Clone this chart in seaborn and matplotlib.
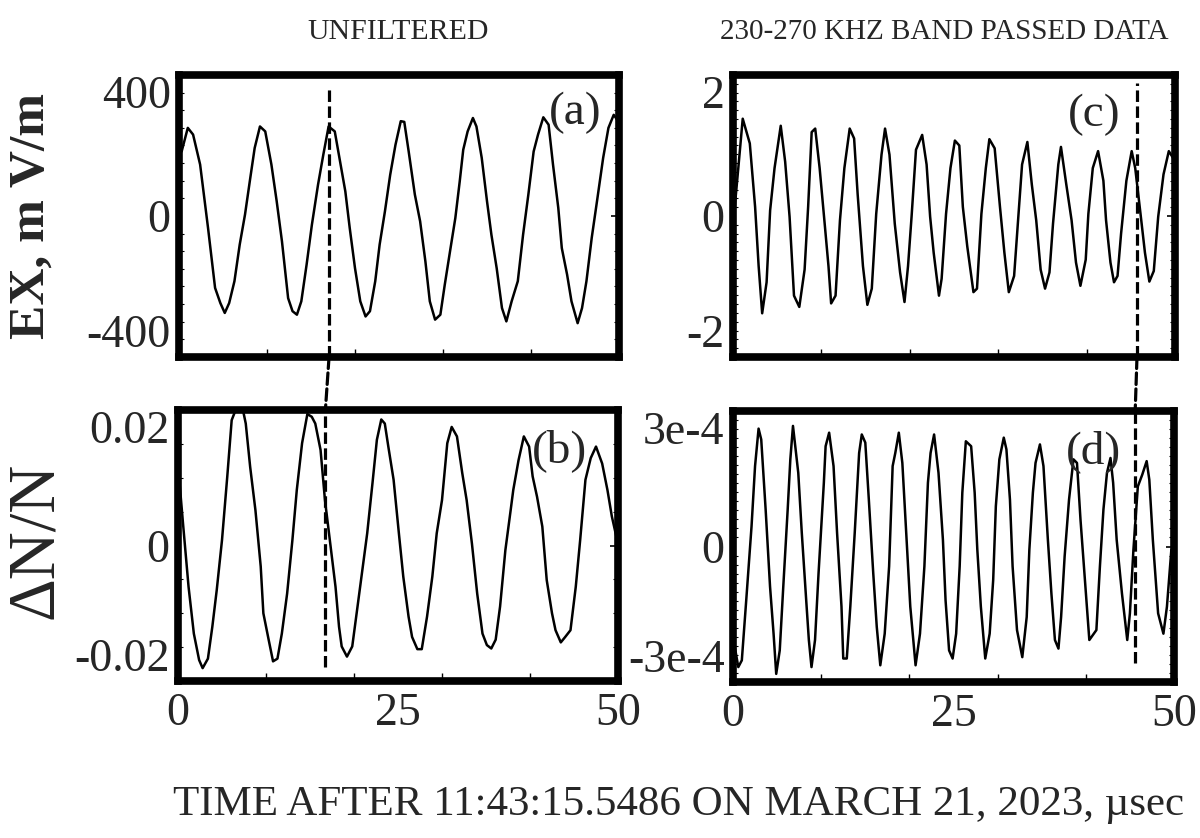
import matplotlib
matplotlib.use("Agg")
import matplotlib.pyplot as plt
import seaborn as sns
from matplotlib.ticker import MultipleLocator, FixedLocator
from matplotlib.patches import ConnectionPatch

# ---- data (time in usec) ----
# (a) unfiltered EX, mV/m
ta = [0.3, 1.0, 1.6, 2.4, 3.3, 4.1, 4.7, 5.2, 5.7, 6.3,
      6.9, 7.5, 8.1, 8.6, 9.2, 9.8, 10.5, 11.1, 11.7, 12.4,
      12.9, 13.4, 13.9, 14.5, 15.1, 15.8, 16.4, 17.0, 17.7, 18.3,
      18.9, 19.4, 20.0, 20.6, 21.2, 21.7, 22.3, 22.8, 23.4, 24.0,
      24.6, 25.2, 25.6, 26.1, 26.8, 27.4, 28.0, 28.5, 29.1, 29.7,
      30.2, 30.8, 31.4, 31.9, 32.3, 32.8, 33.4, 33.8, 34.4, 35.0,
      35.5, 36.1, 36.7, 37.2, 37.8, 38.5, 39.1, 39.7, 40.3, 40.8,
      41.4, 42.0, 42.5, 43.1, 43.5, 44.1, 44.6, 45.3, 45.8, 46.3,
      46.9, 47.5, 48.2, 48.8, 49.4, 49.9]
ex_unf = [183, 250, 231, 146, -34, -204, -247, -275, -247, -185,
          -81, 4, 108, 193, 254, 240, 146, 42, -72, -233,
          -270, -280, -242, -138, -25, 89, 174, 254, 240, 155,
          70, -34, -148, -242, -285, -270, -185, -81, 13, 117,
          202, 269, 267, 183, 61, -15, -129, -242, -294, -280,
          -195, -100, -6, 98, 188, 240, 278, 254, 165, 42,
          -53, -148, -261, -299, -242, -185, -53, 61, 183, 231,
          280, 259, 146, 23, -91, -166, -242, -304, -261, -185,
          -62, 42, 165, 250, 287, 269]

# (b) unfiltered dN/N
tb = [0.1, 0.6, 1.2, 1.8, 2.4, 2.8, 3.4, 3.9, 4.4, 5.0,
      5.6, 6.1, 6.7, 7.3, 7.7, 8.2, 8.8, 9.4, 9.7, 10.3,
      10.8, 11.3, 11.8, 12.4, 13.0, 13.5, 14.1, 14.7, 15.2, 15.6,
      16.2, 16.7, 17.3, 17.9, 18.3, 18.6, 19.2, 19.8, 20.3, 20.9,
      21.5, 22.1, 22.6, 23.1, 23.5, 23.9, 24.5, 25.1, 25.6, 26.2,
      26.6, 27.2, 27.7, 28.3, 28.9, 29.4, 30.0, 30.6, 31.1, 31.7,
      32.3, 32.8, 33.4, 34.0, 34.6, 35.1, 35.6, 36.1, 36.6, 37.2,
      37.8, 38.1, 38.7, 39.3, 39.9, 40.3, 40.8, 41.4, 41.9, 42.5,
      42.9, 43.5, 44.0, 44.6, 45.2, 45.7, 46.3, 46.9, 47.5, 48.2,
      48.8, 49.3, 49.9]
dn_unf = [0.0104, 0.0028, -0.0061, -0.0130, -0.0169, -0.0181, -0.0167, -0.0120, -0.0066, 0.0008,
          0.0102, 0.0185, 0.0205, 0.0205, 0.0180, 0.0116, 0.0052, -0.0031, -0.0100, -0.0139,
          -0.0171, -0.0167, -0.0130, -0.0071, 0.0008, 0.0082, 0.0151, 0.0194, 0.0190, 0.0180,
          0.0141, 0.0067, 0.0003, -0.0061, -0.0120, -0.0149, -0.0164, -0.0149, -0.0100, -0.0041,
          0.0018, 0.0092, 0.0156, 0.0186, 0.0180, 0.0146, 0.0097, 0.0018, -0.0046, -0.0105,
          -0.0135, -0.0153, -0.0153, -0.0105, -0.0046, 0.0018, 0.0067, 0.0151, 0.0175, 0.0161,
          0.0107, 0.0067, 0.0003, -0.0071, -0.0130, -0.0147, -0.0152, -0.0139, -0.0090, -0.0007,
          0.0052, 0.0082, 0.0126, 0.0161, 0.0146, 0.0102, 0.0072, 0.0028, -0.0051, -0.0100,
          -0.0125, -0.0143, -0.0135, -0.0125, -0.0061, 0.0008, 0.0097, 0.0129, 0.0146, 0.0121,
          0.0082, 0.0043, 0.0008]

# (c) band passed EX
tc = [0.2, 0.6, 1.1, 1.9, 2.5, 2.9, 3.3, 3.8, 4.2, 4.7,
      5.4, 5.9, 6.4, 6.9, 7.5, 8.1, 8.5, 8.9, 9.3, 9.8,
      10.4, 10.8, 11.1, 11.6, 12.1, 12.6, 13.2, 13.7, 14.1, 14.7,
      15.2, 15.7, 16.2, 16.8, 17.2, 17.7, 18.3, 18.9, 19.4, 19.8,
      20.2, 20.7, 21.4, 21.9, 22.3, 22.7, 23.3, 23.6, 24.1, 24.6,
      25.1, 25.6, 26.0, 26.5, 27.2, 27.6, 28.1, 28.6, 29.0, 29.6,
      30.2, 30.7, 31.2, 31.8, 32.3, 32.7, 33.3, 33.8, 34.3, 34.8,
      35.3, 35.8, 36.2, 36.8, 37.1, 37.7, 38.3, 38.8, 39.3, 39.9,
      40.2, 40.7, 41.3, 41.9, 42.2, 42.7, 43.1, 43.5, 43.9, 44.5,
      45.1, 45.5, 46.1, 46.6, 47.1, 47.6, 48.1, 48.7, 49.3, 49.8]
ex_bp = [0.13, 0.68, 1.38, 1.03, 0.13, -0.71, -1.38, -0.94, 0.08, 0.68,
         1.28, 0.77, -0.01, -1.13, -1.29, -0.76, 0.13, 1.19, 1.24, 0.68,
         -0.15, -0.71, -1.24, -1.13, -0.06, 0.68, 1.24, 1.10, 0.31, -0.71,
         -1.26, -1.03, 0.03, 0.87, 1.24, 0.87, -0.11, -0.80, -1.22, -0.71,
         -0.01, 0.94, 1.15, 0.73, -0.01, -0.52, -1.13, -0.89, 0.03, 0.68,
         1.07, 1.00, 0.13, -0.43, -1.08, -1.03, 0.03, 0.68, 1.09, 0.96,
         0.13, -0.52, -1.08, -0.85, 0.03, 0.73, 1.05, 0.45, -0.06, -0.76,
         -1.03, -0.80, -0.11, 0.73, 0.98, 0.45, -0.06, -0.66, -0.99, -0.62,
         0.03, 0.68, 0.92, 0.50, -0.06, -0.66, -0.94, -0.85, -0.25, 0.50,
         0.92, 0.68, 0.03, -0.52, -0.93, -0.78, -0.01, 0.59, 0.92, 0.82]

# (d) band passed dN/N (units of 1e-4)
td = [0.2, 0.6, 1.0, 1.5, 2.1, 2.5, 2.9, 3.2, 3.7, 4.2,
      4.6, 4.9, 5.3, 5.7, 6.2, 6.5, 6.8, 7.4, 7.8, 8.3,
      8.6, 8.9, 9.3, 9.7, 10.3, 10.5, 10.9, 11.4, 11.8, 12.3,
      12.5, 12.9, 13.3, 13.8, 14.3, 14.6, 15.0, 15.4, 15.9, 16.3,
      16.7, 17.2, 17.7, 18.1, 18.4, 18.8, 19.2, 19.6, 20.1, 20.7,
      21.2, 21.7, 22.1, 22.4, 22.8, 23.3, 23.8, 24.1, 24.5, 24.9,
      25.3, 25.7, 26.0, 26.4, 27.0, 27.4, 27.7, 28.1, 28.6, 29.1,
      29.5, 29.8, 30.2, 30.7, 31.0, 31.4, 31.7, 32.2, 32.8, 33.3,
      33.6, 34.0, 34.3, 34.8, 35.2, 35.7, 36.1, 36.5, 36.9, 37.2,
      37.6, 38.1, 38.6, 39.0, 39.4, 39.9, 40.4, 41.2, 41.6, 42.0,
      42.4, 42.8, 43.1, 43.5, 44.1, 44.7, 45.0, 45.4, 45.9, 46.4,
      46.9, 47.2, 47.6, 48.2, 48.8, 49.2, 49.7]
dn_bp_e4 = [-2.22, -2.67, -2.52, -1.19, 0.44, 1.78, 2.61, 2.37, 0.82, -0.89,
            -1.93, -2.82, -2.30, -0.89, 0.82, 1.93, 2.67, 1.63, 0.30, -1.19,
            -2.07, -2.67, -2.07, -0.59, 1.41, 2.22, 2.52, 1.78, 0.30, -1.33,
            -2.48, -2.48, -1.33, 0.30, 2.07, 2.48, 2.30, 1.04, -0.59, -1.78,
            -2.63, -1.93, -0.44, 1.78, 2.07, 2.52, 1.85, 0.44, -1.33, -2.63,
            -1.93, -0.44, 1.41, 2.07, 2.48, 1.63, 0.15, -1.19, -2.30, -2.48,
            -1.93, -0.44, 1.19, 2.33, 2.22, 1.19, -0.07, -1.33, -2.48, -1.93,
            -0.74, 0.89, 1.93, 2.41, 2.15, 1.04, -0.44, -1.85, -2.45, -1.56,
            -0.07, 1.19, 1.85, 2.26, 1.78, 0.15, -1.04, -2.07, -2.26, -1.56,
            -0.22, 1.04, 1.93, 1.85, 0.59, -0.74, -2.07, -1.85, -0.44, 0.82,
            1.63, 1.96, 1.41, 0.15, -1.04, -2.07, -1.48, -0.07, 1.33, 1.59,
            1.89, 1.48, 0.15, -1.48, -1.93, -1.33, -0.07]
dn_bp = [v * 1e-4 for v in dn_bp_e4]

# axis limits / tick labels
ylims = {"a": 400, "b": 0.02, "c": 2, "d": 3e-4}
ylabels_txt = {"a": ["-400", "0", "400"], "b": ["-0.02", "0", "0.02"],
               "c": ["-2", "0", "2"], "d": ["-3e-4", "0", "3e-4"]}
minor_step = {"a": 50, "b": 0.005, "c": 0.125, "d": 0.2e-4}
xtick_vals = [0, 25, 50]
xtick_txt = ["0", "25", "50"]

# dashed time markers (usec): top panels, bottom panels
mark_top = [17.05, 45.7]
mark_bot = [16.75, 45.6]

sns.set_theme(style="white")
plt.rcParams["font.family"] = ["Liberation Serif", "DejaVu Serif"]
plt.rcParams["axes.unicode_minus"] = False

fig = plt.figure(figsize=(12, 8.38), dpi=100)
W, H = 1200, 838


def box(x0, x1, y0, y1):
    return [x0 / W, 1 - y1 / H, (x1 - x0) / W, (y1 - y0) / H]


ax_a = fig.add_axes(box(179, 619, 75, 357))
ax_b = fig.add_axes(box(178, 618, 410, 681))
ax_c = fig.add_axes(box(733, 1175, 75, 357))
ax_d = fig.add_axes(box(733, 1174, 411, 682))

panels = [(ax_a, "a", ta, ex_unf, (0.90, 0.865)),
          (ax_b, "b", tb, dn_unf, (0.868, 0.849)),
          (ax_c, "c", tc, ex_bp, (0.817, 0.858)),
          (ax_d, "d", td, dn_bp, (0.818, 0.852))]

for ax, key, t, v, lab in panels:
    sns.lineplot(x=t, y=v, ax=ax, color="black", linewidth=1.8,
                 sort=False, estimator=None)
    lim = ylims[key]
    ax.set_xlim(0, 50)
    ax.set_ylim(-lim, lim)
    for s in ax.spines.values():
        s.set_linewidth(5.5)
        s.set_color("black")
    ax.set_yticks([-lim, 0, lim])
    ax.set_yticklabels(ylabels_txt[key])
    ax.yaxis.set_minor_locator(MultipleLocator(minor_step[key]))
    ax.tick_params(axis="y", which="major", direction="in", length=6,
                   width=1.2, labelsize=33, pad=6, right=True, color="black")
    ax.tick_params(axis="y", which="minor", direction="in", length=3.5,
                   width=0.8, left=True, right=True, color="black")
    tl = ax.get_yticklabels()
    tl[0].set_va("bottom")
    tl[-1].set_va("top")
    ax.set_xticks(xtick_vals)
    ax.xaxis.set_minor_locator(FixedLocator([10, 20, 30, 40]))
    ax.tick_params(axis="x", which="major", length=0, labelsize=33, pad=8)
    ax.tick_params(axis="x", which="minor", direction="in", length=6,
                   width=1.0, bottom=True, color="black")
    ax.text(lab[0], lab[1], f"({key})", transform=ax.transAxes,
            ha="center", va="center", fontsize=34)
    ax.set_xlabel("")
    ax.set_ylabel("")
    ax.grid(False)

for ax in (ax_a, ax_c):
    ax.set_xticklabels([])
for ax in (ax_b, ax_d):
    ax.set_xticklabels(xtick_txt)

# dashed markers inside panels
dash = dict(color="black", linewidth=2.3, linestyle=(0, (3.6, 1.4)))
ax_a.axvline(mark_top[0], ymin=0, ymax=0.954, **dash)
ax_c.axvline(mark_top[1], ymin=0, ymax=0.97, **dash)
ax_b.axvline(mark_bot[0], ymin=0.052, ymax=1, **dash)
ax_d.axvline(mark_bot[1], ymin=0.07, ymax=1, **dash)

# connectors between upper and lower panels
for top_ax, bot_ax, t0, t1 in [(ax_a, ax_b, mark_top[0], mark_bot[0]),
                               (ax_c, ax_d, mark_top[1], mark_bot[1])]:
    con = ConnectionPatch(xyA=(t0, top_ax.get_ylim()[0]), coordsA=top_ax.transData,
                          xyB=(t1, bot_ax.get_ylim()[1]), coordsB=bot_ax.transData,
                          **dash)
    fig.add_artist(con)

# titles and axis labels
fig.text(398 / W, 1 - 32 / H, "UNFILTERED", ha="center", va="center", fontsize=21.5)
fig.text(944 / W, 1 - 32 / H, "230-270 KHZ BAND PASSED DATA", ha="center",
         va="center", fontsize=21)
fig.text(679 / W, 1 - 805 / H, "TIME AFTER 11:43:15.5486 ON MARCH 21, 2023, µsec",
         ha="center", va="center", fontsize=31)
fig.text(32 / W, 1 - 216 / H, "EX, m V/m", rotation=90, ha="center", va="center",
         fontsize=37, fontweight="bold")
fig.text(35 / W, 1 - 540 / H, "ΔN/N", rotation=90, ha="center", va="center",
         fontsize=48)

fig.savefig("out.png", dpi=100, facecolor="white")
